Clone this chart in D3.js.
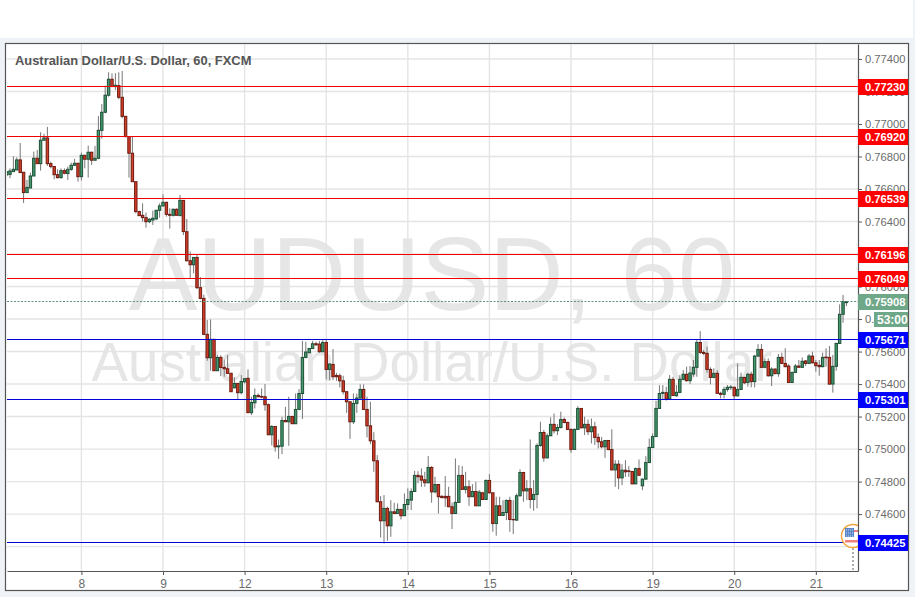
<!DOCTYPE html>
<html>
<head>
<meta charset="utf-8">
<script src="https://cdn.jsdelivr.net/npm/d3@7"></script>
<style>
  html, body { margin: 0; padding: 0; background: #eff3f7; overflow: hidden; }
  text { font-family: "Liberation Sans", Arial, sans-serif; }
</style>
</head>
<body>
<div id="chart"></div>
<script>
// Hourly candles, prices in points (1/100000)
var opens = [
  76686,76690,76707,76717,76779,76703,76578,76606,76680,76789,
  76756,76900,76914,76756,76738,76688,76670,76713,76695,76721,
  76746,76758,76676,76807,76783,76826,76777,76789,76961,77072,
  77177,77275,77230,77236,77164,77047,76922,76820,76645,76461,
  76438,76424,76399,76409,76416,76469,76496,76518,76444,76438,
  76475,76436,76530,76337,76159,76134,76179,75993,75927,75706,
  75562,75675,75482,75564,75502,75494,75466,75377,75404,75347,
  75414,75435,75224,75285,75330,75324,75322,75273,75088,75139,
  75014,75018,75176,75168,75201,75156,75244,75342,75564,75593,
  75619,75648,75646,75599,75656,75490,75521,75453,75451,75420,
  75353,75291,75168,75281,75314,75367,75244,75143,75051,74928,
  74676,74559,74635,74528,74614,74604,74629,74590,74659,74686,
  74739,74838,74834,74811,74793,74887,74737,74782,74709,74709,
  74709,74645,74604,74672,74838,74752,74768,74707,74739,74651,
  74731,74690,74807,74731,74542,74651,74592,74610,74684,74567,
  74563,74713,74856,74743,74756,74690,74721,75022,75102,74946,
  75082,75152,75113,75133,75182,75164,75121,74998,75121,75250,
  75131,75152,75107,75137,75072,75045,75014,75053,74997,74872,
  74907,74823,74870,74866,74862,74786,74880,74774,74815,74917,
  75010,75077,75250,75343,75347,75308,75429,75328,75349,75429,
  75460,75421,75462,75503,75656,75595,75589,75490,75441,75466,
  75343,75337,75367,75378,75380,75328,75367,75441,75410,75460,
  75415,75572,75613,75503,75538,75451,75492,75464,75564,75527,
  75511,75410,75472,75511,75503,75542,75527,75572,75531,75515,
  75507,75566,75564,75400,75509,75650,75829,75901
];
var highs = [
  76707,76727,76801,76795,76883,76703,76656,76701,76830,76840,
  76949,76939,76982,76768,76738,76721,76727,76727,76738,76762,
  76785,76762,76824,76811,76867,76830,76865,77049,77123,77236,
  77318,77312,77312,77318,77326,77047,76926,76926,76645,76467,
  76512,76455,76420,76467,76471,76512,76567,76522,76481,76481,
  76481,76563,76530,76416,76216,76179,76198,76058,75950,75794,
  75798,75679,75578,75578,75552,75578,75470,75441,75404,75455,
  75433,75490,75322,75373,75343,75373,75400,75281,75148,75139,
  75059,75199,75260,75322,75201,75342,75369,75666,75660,75619,
  75666,75660,75666,75670,75670,75527,75615,75469,75465,75451,
  75353,75291,75342,75342,75398,75398,75322,75291,75104,74963,
  74711,74717,74645,74686,74670,74666,74629,74727,74758,74758,
  74866,74864,74881,74860,74957,74895,74830,74782,74717,74834,
  74768,74670,74942,74901,74895,74860,74809,74784,74799,74748,
  74737,74813,74846,74731,74707,74707,74686,74690,74707,74686,
  74727,74875,74860,74809,75059,74809,75035,75168,75117,75096,
  75195,75219,75154,75230,75195,75168,75127,75127,75264,75250,
  75199,75182,75188,75168,75096,75075,75055,75055,75122,74932,
  74932,74907,74932,74895,74862,74887,74936,74819,74956,75065,
  75096,75297,75393,75394,75384,75455,75445,75394,75455,75486,
  75507,75511,75548,75675,75726,75609,75630,75503,75497,75486,
  75353,75384,75394,75394,75384,75527,75470,75445,75470,75476,
  75579,75646,75646,75558,75558,75503,75497,75585,75593,75620,
  75523,75476,75523,75548,75564,75548,75585,75599,75548,75548,
  75593,75620,75634,75579,75654,75890,75948,75907
];
var lows = [
  76666,76666,76707,76717,76701,76514,76578,76606,76680,76756,
  76713,76900,76742,76727,76660,76664,76664,76690,76656,76711,
  76742,76645,76652,76727,76670,76748,76775,76783,76910,77066,
  77168,77230,77209,77152,77035,76918,76670,76645,76451,76436,
  76399,76362,76389,76379,76409,76424,76491,76430,76356,76430,
  76438,76436,76317,76153,76052,76081,75984,75921,75701,75543,
  75482,75482,75480,75449,75445,75461,75353,75373,75306,75336,
  75404,75224,75209,75250,75318,75312,75236,75088,75022,74984,
  74940,74969,75168,75020,75156,75154,75240,75185,75558,75589,
  75615,75634,75593,75599,75428,75424,75424,75420,75379,75336,
  75223,75063,75154,75223,75310,75240,75072,75031,74860,74672,
  74456,74419,74436,74460,74600,74604,74567,74590,74625,74625,
  74739,74789,74768,74768,74789,74670,74727,74604,74696,74645,
  74645,74508,74600,74672,74752,74727,74651,74707,74651,74651,
  74686,74686,74727,74491,74467,74590,74590,74563,74491,74477,
  74559,74707,74676,74686,74635,74620,74635,75014,74922,74942,
  75080,75096,75086,75127,75158,75117,74977,74998,75117,75127,
  75086,75086,75035,75025,75004,75004,74946,74993,74870,74768,
  74753,74778,74829,74829,74784,74784,74835,74747,74813,74915,
  75006,75075,75250,75302,75298,75306,75328,75322,75343,75425,
  75415,75400,75445,75445,75585,75579,75470,75398,75435,75339,
  75312,75312,75353,75363,75306,75322,75363,75400,75384,75380,
  75380,75568,75499,75497,75445,75388,75460,75445,75523,75503,
  75408,75408,75466,75503,75503,75511,75523,75527,75476,75451,
  75503,75507,75394,75347,75482,75646,75777,75880
];
var closes = [
  76707,76711,76721,76779,76701,76578,76610,76680,76789,76756,
  76900,76914,76756,76738,76688,76670,76713,76697,76721,76746,
  76758,76676,76807,76783,76826,76777,76789,76961,77072,77177,
  77275,77230,77238,77164,77047,76922,76820,76645,76461,76436,
  76424,76399,76414,76420,76469,76496,76518,76444,76438,76475,
  76438,76530,76338,76159,76134,76179,75993,75927,75706,75562,
  75675,75482,75564,75502,75494,75466,75353,75404,75347,75416,
  75433,75224,75287,75330,75322,75320,75273,75088,75139,75014,
  75020,75176,75168,75201,75156,75244,75342,75564,75597,75619,
  75648,75642,75599,75656,75490,75523,75445,75445,75420,75353,
  75291,75168,75281,75314,75367,75244,75143,75051,74928,74676,
  74559,74635,74528,74614,74604,74629,74590,74659,74690,74739,
  74838,74830,74809,74793,74887,74737,74782,74707,74702,74700,
  74645,74604,74672,74838,74752,74768,74707,74739,74651,74735,
  74690,74807,74731,74542,74651,74592,74610,74684,74567,74565,
  74713,74856,74743,74756,74690,74721,75022,75102,74946,75082,
  75152,75113,75133,75182,75164,75121,74998,75121,75250,75131,
  75152,75107,75137,75072,75045,75014,75053,74997,74872,74907,
  74823,74870,74860,74862,74786,74880,74839,74815,74917,75010,
  75077,75250,75342,75349,75308,75429,75330,75349,75429,75460,
  75421,75468,75503,75656,75595,75589,75490,75441,75466,75343,
  75337,75367,75380,75382,75328,75367,75441,75408,75460,75415,
  75572,75613,75503,75538,75451,75492,75464,75564,75527,75507,
  75410,75472,75511,75503,75540,75527,75572,75531,75513,75507,
  75564,75562,75400,75509,75650,75829,75907,75907
];

var dayLabels = ['8', '9', '12', '13', '14', '15', '16', '19', '20', '21'];
var dayCandles = [22, 46, 70, 94, 118, 142, 166, 190, 214, 238];
var priceTicks = [
  0.744, 0.746, 0.748, 0.750, 0.752, 0.754, 0.756, 0.758,
  0.760, 0.762, 0.764, 0.766, 0.768, 0.770, 0.772, 0.774
];
var redLevels = [0.77230, 0.76920, 0.76539, 0.76196, 0.76049];
var blueLevels = [0.75671, 0.75301, 0.74425];
var lastPrice = 0.75908;
var countdown = '53:00';
var title = 'Australian Dollar/U.S. Dollar, 60, FXCM';
var watermarkBig = 'AUDUSD, 60';
var watermarkSmall = 'Australian Dollar/U.S. Dollar';

var width = 915;
var height = 597;
var plot = {left: 7, right: 858, top: 44, bottom: 571};

var svg = d3.select('#chart')
    .append('svg')
    .attr('width', width)
    .attr('height', height)
    .style('display', 'block');

// Scales
var scaleX = d3.scaleLinear()
    .domain([0.12, 250.4])
    .range([plot.left, plot.right]);

var scaleY = d3.scaleLinear()
    .domain([0.7425, 0.77492])
    .range([plot.bottom, plot.top]);

var price = d3.format('.5f');

// Level lines sit on whole pixel rows
function snapY(value) {
  return Math.floor(scaleY(value) - 0.4) + 0.5;
}

// Page frame
svg.append('rect')
    .attr('x', 0)
    .attr('y', 0)
    .attr('width', 913)
    .attr('height', 38)
    .attr('fill', '#fff');

svg.append('rect')
    .attr('x', 5.5)
    .attr('y', 43.5)
    .attr('width', 903)
    .attr('height', 547)
    .attr('fill', '#fff')
    .attr('stroke', '#555')
    .attr('stroke-width', 1.2);

svg.append('clipPath')
    .attr('id', 'plot-clip')
    .append('rect')
    .attr('x', plot.left)
    .attr('y', plot.top)
    .attr('width', plot.right - plot.left)
    .attr('height', plot.bottom - plot.top);

// Watermark
svg.append('text')
    .attr('x', 432)
    .attr('y', 310)
    .attr('text-anchor', 'middle')
    .attr('font-size', 103)
    .attr('fill', '#e6e6e6')
    .text(watermarkBig);

svg.append('text')
    .attr('x', 432)
    .attr('y', 381)
    .attr('text-anchor', 'middle')
    .attr('font-size', 54.7)
    .attr('fill', '#e6e6e6')
    .text(watermarkSmall);

// Grid
var grid = svg.append('g')
    .attr('clip-path', 'url(#plot-clip)');

grid.selectAll('.grid-y')
    .data(priceTicks)
    .enter()
    .append('line')
    .attr('x1', plot.left)
    .attr('x2', plot.right)
    .attr('y1', function(d) { return scaleY(d); })
    .attr('y2', function(d) { return scaleY(d); })
    .attr('stroke', '#e4e4e4')
    .attr('stroke-width', 1.4);

grid.selectAll('.grid-x')
    .data(dayCandles)
    .enter()
    .append('line')
    .attr('x1', function(d) { return scaleX(d); })
    .attr('x2', function(d) { return scaleX(d); })
    .attr('y1', plot.top)
    .attr('y2', plot.bottom)
    .attr('stroke', '#e4e4e4')
    .attr('stroke-width', 1.4);

// Candles
var candles = svg.append('g')
    .attr('clip-path', 'url(#plot-clip)')
    .selectAll('g')
    .data(d3.range(opens.length))
    .enter()
    .append('g');

candles.append('line')
    .attr('x1', function(i) { return scaleX(i); })
    .attr('x2', function(i) { return scaleX(i); })
    .attr('y1', function(i) { return scaleY(highs[i] / 1e5); })
    .attr('y2', function(i) { return scaleY(lows[i] / 1e5); })
    .attr('stroke', '#777')
    .attr('stroke-width', 1);

candles.append('rect')
    .attr('x', function(i) { return scaleX(i) - 1.2; })
    .attr('width', 2.4)
    .attr('y', function(i) {
      return scaleY(Math.max(opens[i], closes[i]) / 1e5);
    })
    .attr('height', function(i) {
      return Math.abs(scaleY(opens[i] / 1e5) - scaleY(closes[i] / 1e5));
    })
    .attr('fill', function(i) {
      return closes[i] >= opens[i] ? '#45996c' : '#d43f2a';
    })
    .attr('stroke', function(i) {
      return closes[i] >= opens[i] ? '#1e4f37' : '#6d1a10';
    })
    .attr('stroke-width', 1);

// Horizontal levels
function drawLevels(levels, color) {
  svg.append('g')
      .selectAll('line')
      .data(levels)
      .enter()
      .append('line')
      .attr('x1', plot.left)
      .attr('x2', plot.right)
      .attr('y1', snapY)
      .attr('y2', snapY)
      .attr('stroke', color)
      .attr('stroke-width', 1);
}
drawLevels(redLevels, '#f00000');
drawLevels(blueLevels, '#0000d8');

svg.append('line')
    .attr('x1', plot.left)
    .attr('x2', plot.right)
    .attr('y1', snapY(lastPrice))
    .attr('y2', snapY(lastPrice))
    .attr('stroke', '#5f9478')
    .attr('stroke-width', 1)
    .attr('stroke-dasharray', '2,1.5');

// Event marker
var marker = svg.append('g')
    .attr('clip-path', 'url(#plot-clip)');

marker.append('line')
    .attr('x1', 853)
    .attr('x2', 853)
    .attr('y1', 548)
    .attr('y2', plot.bottom)
    .attr('stroke', '#999')
    .attr('stroke-width', 1.6)
    .attr('stroke-dasharray', '2,2');

marker.append('circle')
    .attr('cx', 853)
    .attr('cy', 536)
    .attr('r', 11.5)
    .attr('fill', '#fff')
    .attr('stroke', '#f2a33c')
    .attr('stroke-width', 1.4);

marker.append('rect')
    .attr('x', 845)
    .attr('y', 528)
    .attr('width', 9)
    .attr('height', 9)
    .attr('fill', '#5b86c8');

marker.selectAll('.star-row')
    .data([530, 533, 536])
    .enter()
    .append('line')
    .attr('x1', 846)
    .attr('x2', 853)
    .attr('y1', function(d) { return d; })
    .attr('y2', function(d) { return d; })
    .attr('stroke', '#cfdcf0')
    .attr('stroke-width', 1)
    .attr('stroke-dasharray', '1,1');

marker.append('rect')
    .attr('x', 854)
    .attr('y', 530)
    .attr('width', 4)
    .attr('height', 2)
    .attr('fill', '#ee8080');

marker.append('rect')
    .attr('x', 845)
    .attr('y', 540)
    .attr('width', 13)
    .attr('height', 2.5)
    .attr('fill', '#ee8080');

// Axes
var axisY = d3.axisRight(scaleY)
    .tickValues(priceTicks)
    .tickFormat(price)
    .tickSize(4)
    .tickPadding(3)
    .tickSizeOuter(0);

var axisX = d3.axisBottom(scaleX)
    .tickValues(dayCandles)
    .tickFormat(function(d, i) { return dayLabels[i]; })
    .tickSize(4)
    .tickPadding(4)
    .tickSizeOuter(0);

var gy = svg.append('g')
    .attr('class', 'y-axis')
    .attr('transform', 'translate(' + plot.right + ',0)')
    .call(axisY);

var gx = svg.append('g')
    .attr('class', 'x-axis')
    .attr('transform', 'translate(0,' + plot.bottom + ')')
    .call(axisX);

[gy, gx].forEach(function(g) {
  g.selectAll('path').attr('stroke', '#555').attr('stroke-width', 1.2);
  g.selectAll('line').attr('stroke', '#555');
  g.selectAll('text')
      .attr('fill', '#6b6b6b')
      .attr('font-family', '"Liberation Sans", Arial, sans-serif');
});
gy.selectAll('text').attr('font-size', 11.2);
gx.selectAll('text').attr('font-size', 12);

// Price tags
function drawTag(value, color) {
  var tag = svg.append('g')
      .attr('transform', 'translate(' + plot.right + ',' + (snapY(value) + 0.5) + ')');
  tag.append('rect')
      .attr('x', 0)
      .attr('y', -8)
      .attr('width', 50)
      .attr('height', 16)
      .attr('fill', color);
  tag.append('text')
      .attr('x', 7)
      .attr('y', 4)
      .attr('font-size', 11.2)
      .attr('font-weight', 'bold')
      .attr('fill', '#fff')
      .text(price(value));
}
redLevels.forEach(function(d) { drawTag(d, '#ff0000'); });
blueLevels.forEach(function(d) { drawTag(d, '#0000ff'); });
drawTag(lastPrice, '#6fa888');

svg.append('rect')
    .attr('x', 874)
    .attr('y', 312)
    .attr('width', 34)
    .attr('height', 15)
    .attr('fill', '#6fa888');

svg.append('text')
    .attr('x', 877)
    .attr('y', 323.5)
    .attr('font-size', 12)
    .attr('font-weight', 'bold')
    .attr('fill', '#fff')
    .text(countdown);

// Title
svg.append('text')
    .attr('x', 15)
    .attr('y', 65)
    .attr('font-size', 12.9)
    .attr('font-weight', 'bold')
    .attr('fill', '#555')
    .text(title);
</script>
</body>
</html>
